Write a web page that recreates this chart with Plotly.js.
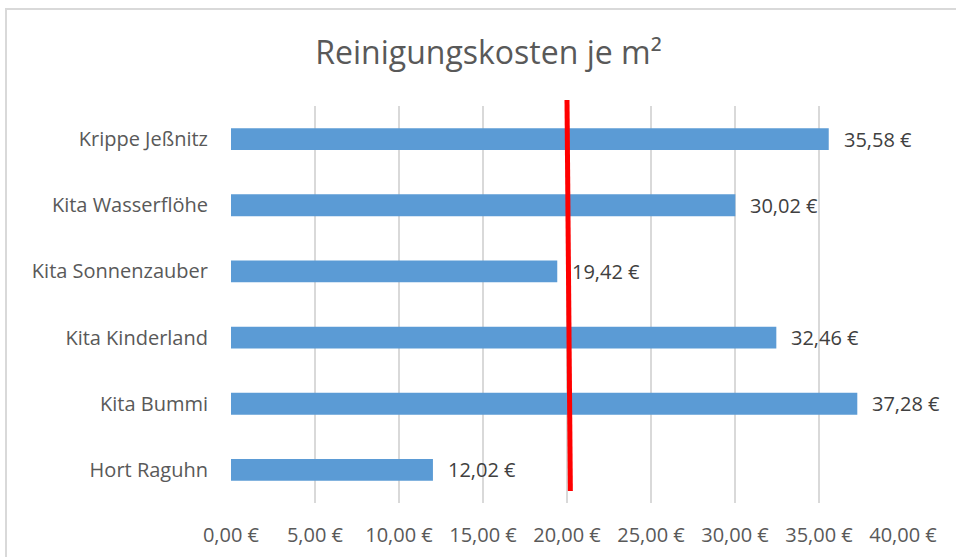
<!DOCTYPE html>
<html><head><meta charset="utf-8">
<script src="https://cdn.plot.ly/plotly-3.0.1.min.js"></script>
<style>
body{margin:0;padding:0;background:#fff;}
#frame{position:absolute;left:5px;top:8px;width:1000px;height:600px;border:2px solid #d9d9d9;box-sizing:border-box;}
#chart{position:absolute;left:0;top:0;width:956px;height:557px;}
</style></head>
<body>
<div id="frame"></div>
<div id="chart"></div>
<script>
const categories = ["Hort Raguhn","Kita Bummi","Kita Kinderland","Kita Sonnenzauber","Kita Wasserflöhe","Krippe Jeßnitz"];
const values = [12.02, 37.28, 32.46, 19.42, 30.02, 35.58];
const tickValues = [0,5,10,15,20,25,30,35,40];
const tickLabels = ["0,00 €","5,00 €","10,00 €","15,00 €","20,00 €","25,00 €","30,00 €","35,00 €","40,00 €"];
const redLineX = [20.2, 20.0]; // bottom, top
const redLineY = [0.03, 1.015]; // paper fraction bottom, top

function fmt(v){return v.toFixed(2).replace('.', ',') + ' €';}

const font = "'Open Sans', Lato, sans-serif";

const trace = {
  type:'bar', orientation:'h',
  y: categories, x: values,
  marker:{color:'#5b9bd5'},
  width:0.33,
  hoverinfo:'none'
};

const annotations = categories.map((c,i)=>({
  x: values[i], y: c, xref:'x', yref:'y',
  text: fmt(values[i]), showarrow:false,
  xanchor:'left', xshift:13,
  font:{family:font, size:20, color:'#404040'}
}));

const layout = {
  width:956, height:557,
  margin:{l:231, r:53, t:106, b:54},
  paper_bgcolor:'rgba(0,0,0,0)', plot_bgcolor:'rgba(0,0,0,0)',
  title:{text:'Reinigungskosten je m²', x:0.511, xanchor:'center', y:0.905, yanchor:'middle',
    font:{family:font, size:32, color:'#595959'}},
  xaxis:{range:[0,40], tickvals:tickValues, ticktext:tickLabels,
    showgrid:true, gridcolor:'#d9d9d9', gridwidth:1.5, zeroline:false,
    ticks:'', ticklabelstandoff:18,
    showline:false, fixedrange:true, automargin:false,
    tickfont:{family:font, size:20, color:'#595959'}},
  yaxis:{showgrid:false, zeroline:false, showline:false, ticks:'', ticklen:0,
    automargin:false, ticklabelstandoff:22,
    tickfont:{family:font, size:20, color:'#595959'}},
  bargap:0.67,
  showlegend:false,
  annotations: annotations,
  shapes:[{type:'line', xref:'x', yref:'paper',
    x0:redLineX[0], y0:redLineY[0], x1:redLineX[1], y1:redLineY[1],
    line:{color:'#ff0000', width:5}}]
};

Plotly.newPlot('chart',[trace],layout,{displayModeBar:false, staticPlot:true});
</script>
</body></html>
